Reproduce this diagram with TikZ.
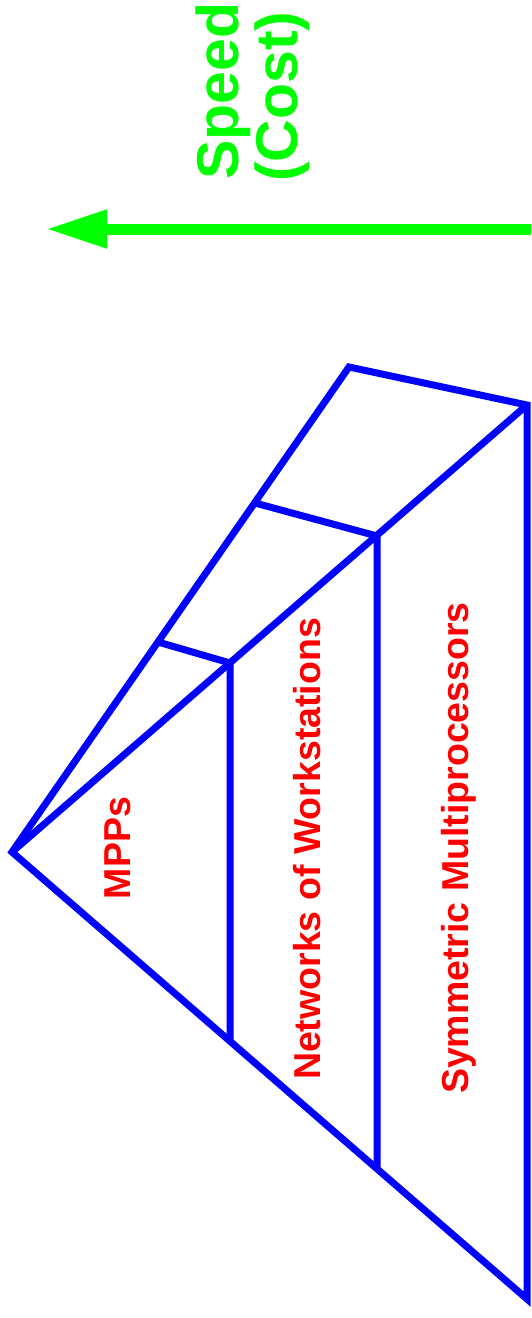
\documentclass[tikz,border=0pt]{standalone}
\usepackage{fontspec}
\setmainfont{Liberation Sans}
\usetikzlibrary{arrows.meta}
\definecolor{pblue}{RGB}{0,0,255}
\definecolor{pred}{RGB}{255,0,0}
\definecolor{pgreen}{RGB}{0,255,0}
\tikzset{
  edge/.style={draw=pblue, line width=7pt, line join=miter, miter limit=20},
  lbl/.style={text=pred, font=\bfseries\fontsize{37.5}{40}\selectfont, rotate=90, anchor=base, inner sep=0pt},
  axislbl/.style={text=pgreen, font=\bfseries\fontsize{59}{60}\selectfont, rotate=90, anchor=base west, inner sep=0pt},
  axisarrow/.style={draw=pgreen, line width=11pt, -{Triangle[length=61pt,width=36pt]}}
}
\begin{document}
\begin{tikzpicture}[x=1pt,y=-1pt]
\useasboundingbox (0,0) rectangle (531,1318);
% pyramid corners
\coordinate (A) at (12,852);
\coordinate (D) at (349,367);
\coordinate (C) at (527,405);
\coordinate (B) at (527,1299);
% divider points
\coordinate (P1) at (158,642);
\coordinate (Q1) at (230,663);
\coordinate (R1) at (230,1040);
\coordinate (P2) at (255,503);
\coordinate (Q2) at (377,536);
\coordinate (R2) at (377,1169);
\draw[edge] (A) -- (D) -- (C) -- (B) -- cycle;
\draw[edge] (A) -- (C);
\draw[edge] (P1) -- (Q1) -- (R1);
\draw[edge] (P2) -- (Q2) -- (R2);
% labels
\node[lbl] (mpp) at (130,848) {MPPs};
\node[lbl] (now) at (320,849) {Networks of Workstations};
\node[lbl] (smp) at (468,848) {Symmetric Multiprocessors};
% speed axis
\coordinate (arrS) at (531,229);
\coordinate (arrE) at (46,229);
\draw[axisarrow] (arrS) -- (arrE);
\node[axislbl] (speed) at (238,180) {Speed};
\node[axislbl] (cost) at (297,182) {(Cost)};
\end{tikzpicture}
\end{document}
